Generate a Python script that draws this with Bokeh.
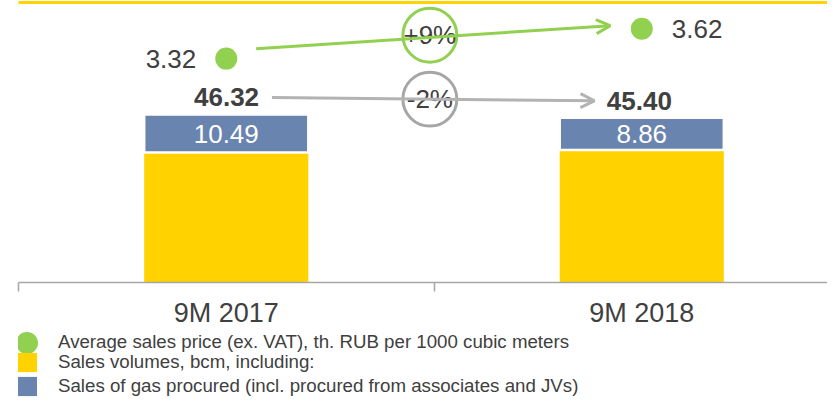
from bokeh.plotting import figure
from bokeh.layouts import column
from bokeh.models import (Range1d, LinearAxis, FixedTicker, Arrow, OpenHead, Legend, LegendItem)
from bokeh.core.properties import value
from bokeh.embed import file_html
from bokeh.resources import INLINE

# ---------------- data ----------------
categories = ["9M 2017", "9M 2018"]
sales_total = [46.32, 45.40]          # Sales volumes, bcm
gas_procured = [10.49, 8.86]          # Sales of gas procured, bcm
avg_price = [3.32, 3.62]              # th. RUB per 1000 cubic meters
total_labels = ["46.32", "45.40"]
procured_labels = ["10.49", "8.86"]
price_labels = ["3.32", "3.62"]
price_change = "+9%"
volume_change = "-2%"
legend_labels = [
    "Average sales price (ex. VAT), th. RUB per 1000 cubic meters",
    "Sales volumes, bcm, including:",
    "Sales of gas procured (incl. procured from associates and JVs)",
]

# ---------------- style ----------------
YELLOW = "#FFD200"
BLUE = "#6A84B0"
GREEN = "#92D050"
GREY_ARROW = "#B3B3B3"
GREY_CIRCLE = "#A6A6A6"
TEXT = "#404040"
AXIS = "#A6A6A6"
FONT = "Liberation Sans"

xc = [i + 0.5 for i in range(len(categories))]
own = [t - g for t, g in zip(sales_total, gas_procured)]
mid_procured = [o + g / 2 for o, g in zip(own, gas_procured)]

p = figure(width=827, height=330, output_backend="svg", toolbar_location=None,
           x_range=Range1d(0, 1.947), y_range=Range1d(0, 77.2),
           x_axis_location=None, y_axis_location=None,
           min_border_left=18, min_border_right=0, min_border_top=2, min_border_bottom=47)
p.outline_line_color = None
p.grid.visible = False
p.extra_y_ranges = {"price": Range1d(1.073, 3.883)}

# bars
bar_w = 0.395
p.vbar(x=xc, bottom=0, top=own, width=bar_w, fill_color=YELLOW, line_color=None)
p.vbar(x=xc, bottom=own, top=sales_total, width=bar_w, fill_color=BLUE,
       line_color="white", line_width=2.5)

# procured labels (white, inside blue)
p.text(x=xc, y=mid_procured, text=procured_labels, text_color="white",
       text_font=value(FONT), text_font_size="26px", text_align="center",
       text_baseline="middle")

# totals arrow + labels
gap = 4.7
p.add_layout(Arrow(x_start=xc[0] + 0.11, y_start=sales_total[0] + gap,
                   x_end=xc[1] - 0.114, y_end=sales_total[1] + gap,
                   line_color=GREY_ARROW, line_width=3,
                   end=OpenHead(size=14, line_color=GREY_ARROW, line_width=3)))
for i, (dx, align) in enumerate([(0.079, "right"), (-0.084, "left")]):
    p.text(x=[xc[i] + dx], y=[sales_total[i] + gap], text=[total_labels[i]],
           text_color=TEXT, text_font=value(FONT), text_font_size="26px",
           text_font_style="bold", text_align=align, text_baseline="middle")
gmid = (sales_total[0] + sales_total[1]) / 2 + gap
p.scatter(x=[0.99], y=[gmid], size=54, fill_color=None, line_color=GREY_CIRCLE, line_width=3)
p.text(x=[0.99], y=[gmid], text=[volume_change], text_color=TEXT, text_font=value(FONT),
       text_font_size="26px", text_align="center", text_baseline="middle")

# price arrow, dots, labels
ps = avg_price[0] + 0.10
pe = avg_price[1] + 0.03
p.add_layout(Arrow(x_start=xc[0] + 0.072, y_start=ps, x_end=xc[1] - 0.076, y_end=pe,
                   y_range_name="price", line_color=GREEN, line_width=3,
                   end=OpenHead(size=14, line_color=GREEN, line_width=3)))
p.scatter(x=xc, y=avg_price, size=22, fill_color=GREEN, line_color=None,
          y_range_name="price")
for i, (dx, align) in enumerate([(-30, "right"), (30, "left")]):
    p.text(x=[xc[i]], y=[avg_price[i]], text=[price_labels[i]], x_offset=dx,
           y_range_name="price", text_color=TEXT, text_font=value(FONT),
           text_font_size="26px", text_align=align, text_baseline="middle")
pmid = (ps + pe) / 2 + 0.02
p.scatter(x=[0.99], y=[pmid], size=54, fill_color=None, line_color=GREEN, line_width=3,
          y_range_name="price")
p.text(x=[0.99], y=[pmid], text=[price_change], y_range_name="price", text_color=TEXT,
       text_font=value(FONT), text_font_size="26px", text_align="center",
       text_baseline="middle")

# axes
xaxis = LinearAxis(ticker=FixedTicker(ticks=xc, minor_ticks=list(range(len(categories) + 1))),
                   major_label_overrides={x: c for x, c in zip(xc, categories)},
                   axis_line_color=AXIS, axis_line_width=1.5,
                   major_tick_line_color=None, major_tick_out=0, major_tick_in=0,
                   minor_tick_line_color=AXIS, minor_tick_line_width=1.5,
                   minor_tick_out=9, minor_tick_in=0,
                   major_label_text_font_size="27px", major_label_text_color=TEXT,
                   major_label_text_font=FONT, major_label_standoff=6)
p.add_layout(xaxis, "below")

top_axis = LinearAxis(ticker=FixedTicker(ticks=[]), axis_line_color=YELLOW, axis_line_width=3,
                      major_tick_line_color=None, minor_tick_line_color=None,
                      major_tick_out=0, minor_tick_out=0, major_label_text_font_size="0px")
p.add_layout(top_axis, "above")

# ---------------- legend strip ----------------
nan = float("nan")
lg = figure(width=827, height=67, output_backend="svg", toolbar_location=None,
            x_range=Range1d(0, 1), y_range=Range1d(0, 1),
            x_axis_location=None, y_axis_location=None, min_border=0)
lg.outline_line_color = None
lg.grid.visible = False
r_dot = lg.scatter(x=[nan], y=[nan], size=22, fill_color=GREEN, line_color=None)
r_yel = lg.vbar(x=[nan], top=[nan], width=1, fill_color=YELLOW, line_color=None)
r_blu = lg.vbar(x=[nan], top=[nan], width=1, fill_color=BLUE, line_color=None)

common = dict(padding=0, margin=0, border_line_color=None, background_fill_alpha=0,
              label_text_font_size="18.7px", label_text_color=TEXT, label_text_font=FONT,
              label_text_baseline="middle")
leg1 = Legend(items=[LegendItem(label=legend_labels[0], renderers=[r_dot])],
              location=(-19, 27.5), glyph_width=55, glyph_height=55, label_standoff=4, **common)
leg2 = Legend(items=[LegendItem(label=legend_labels[1], renderers=[r_yel]),
                     LegendItem(label=legend_labels[2], renderers=[r_blu])],
              location=(-4, -1), glyph_width=25, glyph_height=24, spacing=-2,
              label_standoff=19, **common)
lg.add_layout(leg1)
lg.add_layout(leg2)

open("out.html", "w").write(file_html(column(p, lg, spacing=0), INLINE))
